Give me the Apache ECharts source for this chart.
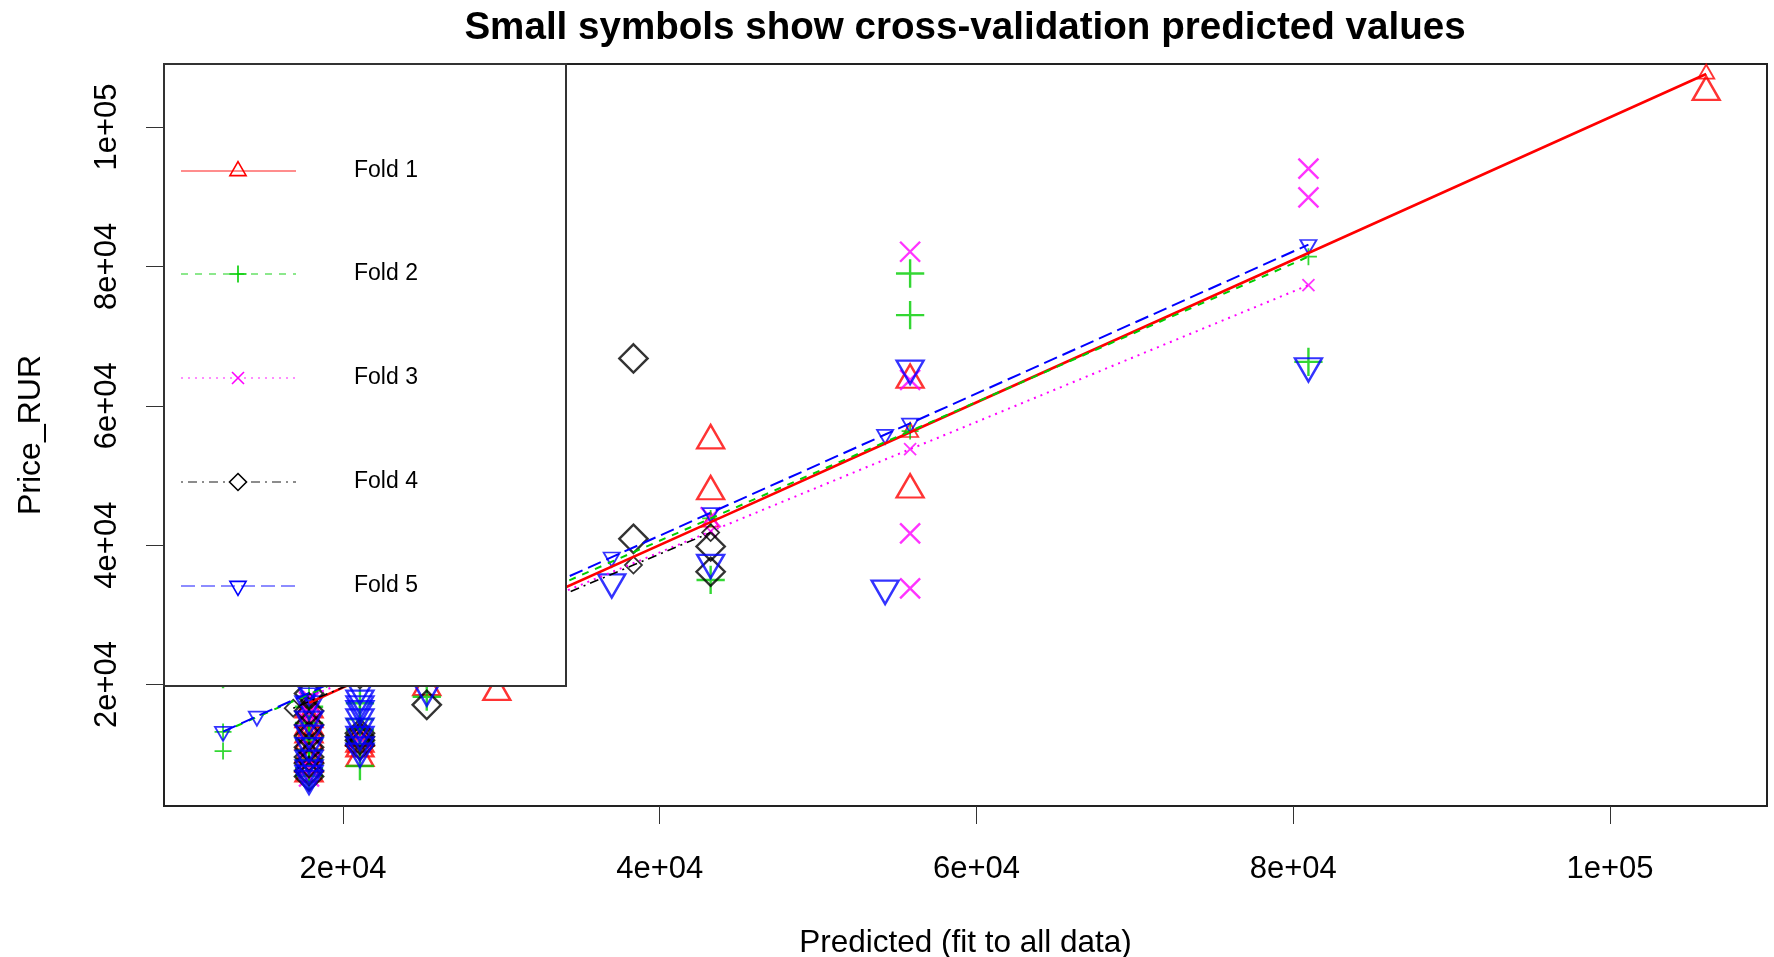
<!DOCTYPE html>
<html>
<head>
<meta charset="utf-8">
<script src="https://cdn.jsdelivr.net/npm/echarts@6/dist/echarts.min.js"></script>
<style>
  html, body { margin: 0; padding: 0; background: #ffffff; }
  #chart { width: 1774px; height: 957px; }
</style>
</head>
<body>
<div id="chart"></div>
<script>
// ---- data -------------------------------------------------------------
const foldNames = ['Fold 1', 'Fold 2', 'Fold 3', 'Fold 4', 'Fold 5'];

const xTicks = [20000, 40000, 60000, 80000, 100000];
const xTickLabels = ['2e+04', '4e+04', '6e+04', '8e+04', '1e+05'];
const yTicks = [20000, 40000, 60000, 80000, 100000];
const yTickLabels = ['2e+04', '4e+04', '6e+04', '8e+04', '1e+05'];

// Observed Price_RUR against the prediction from the fit to all data
const fold1ObsX = [17857, 17857, 17857, 17857, 17857, 17857, 17857, 17857, 17857, 21071, 21071, 21071, 21071, 21071, 25290, 29714, 43214, 43214, 55808, 55808, 106071];
const fold1ObsY = [24000, 16400, 15000, 13950, 12800, 11800, 10000, 8600, 7200, 27000, 12300, 11500, 10800, 9450, 19600, 18900, 55000, 47700, 63700, 47950, 105000];
const fold2ObsX = [12428, 17857, 17857, 17857, 17857, 17857, 17857, 17857, 17857, 21071, 21071, 21071, 21071, 21071, 21071, 25290, 43214, 55808, 55808, 80957];
const fold2ObsY = [21500, 23500, 16800, 14500, 12100, 10600, 9200, 8000, 6900, 26000, 17300, 15000, 13500, 11900, 8300, 18250, 35000, 78980, 73010, 66300];
const fold3ObsX = [17857, 17857, 17857, 17857, 17857, 17857, 17857, 17857, 21071, 21071, 43214, 55808, 55808, 55808, 55808, 80957, 80957];
const fold3ObsY = [22500, 17500, 15900, 14500, 11000, 9000, 8000, 6800, 25500, 12300, 44000, 82100, 63700, 41690, 33800, 94040, 89890];
const fold4ObsX = [16860, 17857, 17857, 17857, 17857, 17857, 17857, 17857, 17857, 17857, 21071, 21071, 21071, 21071, 25290, 38340, 38340, 43214, 43214];
const fold4ObsY = [23000, 18700, 16200, 14200, 12600, 11000, 9600, 8700, 7600, 6800, 13000, 12500, 12000, 11300, 17080, 66790, 40900, 39800, 36180];
const fold5ObsX = [12428, 14565, 17857, 17857, 17857, 17857, 17857, 17857, 17857, 17857, 17857, 21071, 21071, 21071, 21071, 21071, 21071, 21071, 21071, 21071, 25290, 36970, 43214, 54230, 55808, 80957];
const fold5ObsY = [26000, 31000, 19300, 17200, 15000, 13000, 11200, 9400, 8000, 7200, 6509, 19400, 18000, 17200, 16500, 15300, 14000, 12800, 11300, 10400, 19200, 34700, 37500, 33800, 65350, 65700];

// Cross-validation predicted values for each fold
const fold1CvX = [17857, 21071, 25290, 29714, 43214, 55808, 106071];
const fold1CvY = [17370, 20660, 24970, 29500, 43310, 56190, 107600];
const fold2CvX = [12428, 17857, 21071, 25290, 43214, 55808, 80957];
const fold2CvY = [13200, 18600, 21800, 26000, 43830, 56360, 81390];
const fold2LoneCvX = [12428];
const fold2LoneCvY = [10450];
const fold3CvX = [17857, 21071, 43214, 55808, 80957];
const fold3CvY = [18240, 21250, 41970, 53760, 77300];
const fold4CvX = [16860, 17857, 21071, 25290, 38340, 43214];
const fold4CvY = [16600, 17550, 20630, 24660, 37140, 41800];
const fold5CvX = [12428, 14565, 17857, 21071, 25290, 36970, 43214, 54230, 55808, 80957];
const fold5CvY = [13250, 15430, 18790, 22060, 26360, 38270, 44640, 55870, 57480, 83120];

// ---- styling ------------------------------------------------------------
const FONT = '"Liberation Sans", Arial, Helvetica, sans-serif';
const foldColors = ['#FF0000', '#00CD00', '#FF00FF', '#000000', '#0000FF'];
const foldDash = ['solid', [7, 7], [2, 5], [2, 5, 9, 5], [14, 6]];
const foldLineWidth = [2.6, 2, 2, 1.6, 2];
const R_BIG = 10;    // plotting-symbol radius for observed values
const R_SMALL = 6;   // plotting-symbol radius for CV predictions

// R-style plotting characters 2..6 at unit radius. ECharts centres a symbol's
// bounding box on the point, so triangles are shifted to put the centroid there.
const pchShapes = [
  { path: 'path://M0,-1.5551L1.3468,0.7776L-1.3468,0.7776Z', w: 2.6936, h: 2.3327, dy: -0.3888 },  // triangle
  { path: 'path://M-1,0L1,0M0,-1L0,1', w: 2.8284, h: 2.8284, dy: 0 },                               // plus
  { path: 'path://M-1,-1L1,1M-1,1L1,-1', w: 2, h: 2, dy: 0 },                                       // cross
  { path: 'path://M0,-1L1,0L0,1L-1,0Z', w: 2.8284, h: 2.8284, dy: 0 },                              // diamond
  { path: 'path://M0,1.5551L1.3468,-0.7776L-1.3468,-0.7776Z', w: 2.6936, h: 2.3327, dy: 0.3888 }   // inverted triangle
];

const obsX = [fold1ObsX, fold2ObsX, fold3ObsX, fold4ObsX, fold5ObsX];
const obsY = [fold1ObsY, fold2ObsY, fold3ObsY, fold4ObsY, fold5ObsY];
const cvX = [fold1CvX, fold2CvX, fold3CvX, fold4CvX, fold5CvX];
const cvY = [fold1CvY, fold2CvY, fold3CvY, fold4CvY, fold5CvY];

function zip(xs, ys) { return xs.map((x, i) => [x, ys[i]]); }

function symbolSeries(name, data, k, r, bw) {
  const s = pchShapes[k];
  return {
    name: name, type: 'scatter', data: data, silent: true, clip: true,
    symbol: s.path,
    symbolSize: [s.w * r, s.h * r],
    symbolOffset: [0, s.dy * r],
    itemStyle: { color: 'rgba(0,0,0,0)', borderColor: foldColors[k], borderWidth: bw },
    emphasis: { disabled: true }
  };
}

const series = [];
foldNames.forEach((name, k) => {
  series.push(symbolSeries(name, zip(obsX[k], obsY[k]), k, R_BIG, 2.4));
  let cv = zip(cvX[k], cvY[k]);
  if (k === 1) cv = cv.concat(zip(fold2LoneCvX, fold2LoneCvY));
  series.push(symbolSeries(name, cv, k, R_SMALL, 1.8));
  series.push({
    name: name, type: 'line', data: zip(cvX[k], cvY[k]), silent: true, clip: true,
    symbol: 'none',
    lineStyle: { color: foldColors[k], width: foldLineWidth[k], type: foldDash[k] },
    emphasis: { disabled: true }
  });
});

// ---- legend box (drawn over the plot, as in base graphics) ---------------
const LEG = { x: 164, y: 64, w: 402, h: 622, lineX1: 181, lineX2: 296, symX: 238, textX: 354, rowY: [171, 274, 378, 482, 586] };
const legendEls = [{
  type: 'rect', z: 100,
  shape: { x: LEG.x, y: LEG.y, width: LEG.w, height: LEG.h },
  style: { fill: '#ffffff', stroke: '#333333', lineWidth: 2 }
}];

function legendSymbol(k, cx, cy, r, color) {
  const st = { fill: 'none', stroke: color, lineWidth: 1.6 };
  if (k === 0) {
    return [{ type: 'polygon', z: 101, shape: { points: [[cx, cy - 1.5551 * r], [cx + 1.3468 * r, cy + 0.7776 * r], [cx - 1.3468 * r, cy + 0.7776 * r]] }, style: st }];
  }
  if (k === 4) {
    return [{ type: 'polygon', z: 101, shape: { points: [[cx, cy + 1.5551 * r], [cx + 1.3468 * r, cy - 0.7776 * r], [cx - 1.3468 * r, cy - 0.7776 * r]] }, style: st }];
  }
  if (k === 3) {
    const d = 1.4142 * r;
    return [{ type: 'polygon', z: 101, shape: { points: [[cx, cy - d], [cx + d, cy], [cx, cy + d], [cx - d, cy]] }, style: Object.assign({}, st, { fill: '#ffffff' }) }];
  }
  if (k === 1) {
    const d = 1.4142 * r;
    return [
      { type: 'line', z: 101, shape: { x1: cx - d, y1: cy, x2: cx + d, y2: cy }, style: st },
      { type: 'line', z: 101, shape: { x1: cx, y1: cy - d, x2: cx, y2: cy + d }, style: st }
    ];
  }
  return [
    { type: 'line', z: 101, shape: { x1: cx - r, y1: cy - r, x2: cx + r, y2: cy + r }, style: st },
    { type: 'line', z: 101, shape: { x1: cx - r, y1: cy + r, x2: cx + r, y2: cy - r }, style: st }
  ];
}

foldNames.forEach((name, k) => {
  const cy = LEG.rowY[k];
  const col = foldColors[k];
  legendEls.push({
    type: 'line', z: 101,
    shape: { x1: LEG.lineX1, y1: cy, x2: LEG.lineX2, y2: cy },
    style: { stroke: col, lineWidth: 1.6, opacity: 0.6, lineDash: foldDash[k] === 'solid' ? null : foldDash[k] }
  });
  legendSymbol(k, LEG.symX, cy, R_SMALL, col).forEach(e => legendEls.push(e));
  legendEls.push({
    type: 'text', z: 101, x: LEG.textX, y: cy,
    style: { text: name, fontSize: 23, fontFamily: FONT, fill: '#000000', verticalAlign: 'middle', align: 'left' }
  });
});

// ---- chart ----------------------------------------------------------------
const chart = echarts.init(document.getElementById('chart'), null, { renderer: 'canvas' });
chart.setOption({
  animation: false,
  backgroundColor: '#ffffff',
  title: {
    text: 'Small symbols show cross-validation predicted values',
    left: 965, top: 9, textAlign: 'center', padding: 0,
    textStyle: { fontSize: 38.6, fontWeight: 'bold', fontFamily: FONT, color: '#000000' }
  },
  grid: {
    left: 164, right: 7, top: 64, bottom: 151,
    outerBoundsMode: 'none',
    show: true, borderColor: '#222222', borderWidth: 2, backgroundColor: 'rgba(0,0,0,0)'
  },
  xAxis: {
    type: 'value', min: 8700, max: 109910,
    name: 'Predicted (fit to all data)', nameLocation: 'middle', nameGap: 121,
    nameTextStyle: { fontSize: 31.5, fontFamily: FONT, color: '#000000' },
    axisLine: { show: false },
    splitLine: { show: false },
    axisTick: { show: true, inside: false, length: 18, customValues: xTicks, lineStyle: { color: '#333333', width: 1 } },
    axisLabel: {
      customValues: xTicks, margin: 48, fontSize: 31, fontFamily: FONT, color: '#000000',
      formatter: v => xTickLabels[xTicks.indexOf(v)]
    }
  },
  yAxis: {
    type: 'value', min: 2566, max: 109040,
    name: 'Price_RUR', nameLocation: 'middle', nameGap: 117, nameRotate: 90,
    nameTextStyle: { fontSize: 32, fontFamily: FONT, color: '#000000' },
    axisLine: { show: false },
    splitLine: { show: false },
    axisTick: { show: true, inside: false, length: 18, customValues: yTicks, lineStyle: { color: '#333333', width: 1 } },
    axisLabel: {
      customValues: yTicks, margin: 41, rotate: 90, fontSize: 31, fontFamily: FONT, color: '#000000',
      formatter: v => yTickLabels[yTicks.indexOf(v)]
    }
  },
  series: series,
  graphic: { elements: legendEls }
});
</script>
</body>
</html>
